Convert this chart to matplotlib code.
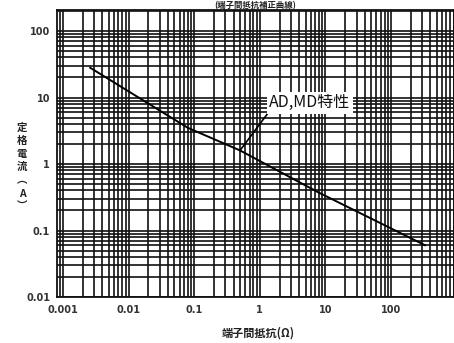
import matplotlib
matplotlib.use("Agg")
import matplotlib.pyplot as plt
from matplotlib.ticker import LogLocator, FixedLocator, NullFormatter

plt.rcParams['font.family'] = ['Noto Sans CJK JP', 'DejaVu Sans']

# Rated current vs. terminal resistance (AD, MD characteristic)
resistance = [0.0026, 0.08, 0.5, 8, 330]
current = [28, 3.5, 1.6, 0.37, 0.06]

x_ticks = [0.001, 0.01, 0.1, 1, 10, 100]
x_labels = ["0.001", "0.01", "0.1", "1", "10", "100"]
y_ticks = [0.01, 0.1, 1, 10, 100]
y_labels = ["0.01", "0.1", "1", "10", "100"]

W, H = 454, 343
fig = plt.figure(figsize=(W / 100, H / 100), dpi=100)
ax = fig.add_axes([57 / W, 46 / H, (454 - 57) / W, (297 - 10) / H])

ax.set_xscale('log')
ax.set_yscale('log')
ax.set_xlim(0.00081, 913)
ax.set_ylim(0.01, 207)

ax.xaxis.set_major_locator(FixedLocator(x_ticks))
ax.yaxis.set_major_locator(FixedLocator(y_ticks))
ax.set_xticklabels(x_labels)
ax.set_yticklabels(y_labels)
ax.xaxis.set_minor_locator(LogLocator(base=10, subs=range(2, 10), numticks=20))
ax.yaxis.set_minor_locator(LogLocator(base=10, subs=range(2, 10), numticks=20))
ax.xaxis.set_minor_formatter(NullFormatter())
ax.yaxis.set_minor_formatter(NullFormatter())

ax.tick_params(which='both', length=0, labelsize=7, labelcolor='#333333')
ax.tick_params(axis='x', pad=6)
ax.tick_params(axis='y', pad=5)
for lab in ax.get_xticklabels() + ax.get_yticklabels():
    lab.set_fontweight('bold')
    lab.set_family('DejaVu Sans')

ax.grid(True, which='both', color='#111111', linewidth=1.2)
for s in ax.spines.values():
    s.set_color('#111111')
    s.set_linewidth(1.3)

ax.plot(resistance, current, color='black', linewidth=1.4, zorder=3)

ax.annotate("AD,MD特性", xy=(0.5, 1.6), xytext=(5.8, 8.3),
            ha='center', va='center', fontsize=11.5, color='#111111',
            bbox=dict(boxstyle='square,pad=0.15', fc='white', ec='none'),
            arrowprops=dict(arrowstyle='-', color='black', lw=1.2,
                            relpos=(0.0, 0.0), shrinkA=0, shrinkB=0),
            zorder=4)

fig.text(22 / W, 1 - 167 / H, "定\n格\n電\n流\n︵\nA\n︶", ha='center', va='center',
         fontsize=7.5, fontweight='bold', color='#222222', linespacing=1.4)
fig.text(258 / W, 1 - 333 / H, "端子間抵抗(Ω)", ha='center', va='center',
         fontsize=8, fontweight='bold', color='#222222')
fig.text(255 / W, 1 - 1 / H, "(端子間抵抗補正曲線)", ha='center', va='top',
         fontsize=6, fontweight='bold', color='#222222')

fig.savefig("out.png", dpi=100)
